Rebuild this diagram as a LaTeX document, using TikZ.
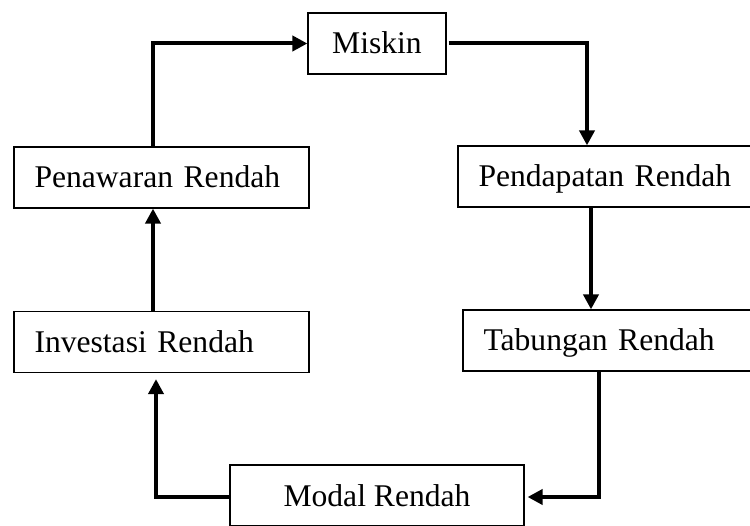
\documentclass[tikz,border=0pt]{standalone}
\usepackage{fontspec}
\setmainfont{Liberation Serif}
\usetikzlibrary{arrows.meta}
\begin{document}
\begin{tikzpicture}[x=1pt,y=-1pt,
  box/.style={draw, line width=1.2pt, minimum height=61pt, text height=21pt, text depth=0pt,
    font=\fontsize{31.6}{36}\selectfont},
  lbox/.style={box, inner xsep=20.5pt, text width=254pt, align=left},
  cbox/.style={box, inner xsep=0pt, align=center},
  conn/.style={line width=4pt, -{Triangle[length=15pt,width=15pt]}}]
\useasboundingbox (0,0) rectangle (750,526);
\clip (0,0) rectangle (750,526);
\node[cbox, minimum width=138pt] (mis) at (377,43.5) {Miskin};
\node[lbox] (pen) at (161.5,177.5) {Penawaran Rendah};
\node[lbox] (pend) at (605.5,176.5) {Pendapatan Rendah};
\node[lbox] (inv) at (161.5,342) {Investasi Rendah};
\node[lbox] (tab) at (610.5,340.5) {Tabungan Rendah};
\node[cbox, minimum width=294pt] (mod) at (377,495.5) {Modal Rendah};
\draw[conn] ([xshift=-8.5pt]pen.north) |- (mis.west);
\draw[conn, shorten <=2pt] (mis.east) -| ([xshift=-18.5pt]pend.north);
\draw[conn] ([xshift=-14.5pt]pend.south) -- ([xshift=-14.5pt]pend.south |- tab.north);
\draw[conn] ([xshift=-11.5pt]tab.south) |- ([xshift=3pt,yshift=-1.5pt]mod.east);
\draw[conn] ([yshift=-1.5pt]mod.west) -| ([xshift=-5.5pt,yshift=-6pt]inv.south);
\draw[conn] ([xshift=-8.5pt]inv.north) -- ([xshift=-8.5pt]inv.north |- pen.south);
\end{tikzpicture}
\end{document}
